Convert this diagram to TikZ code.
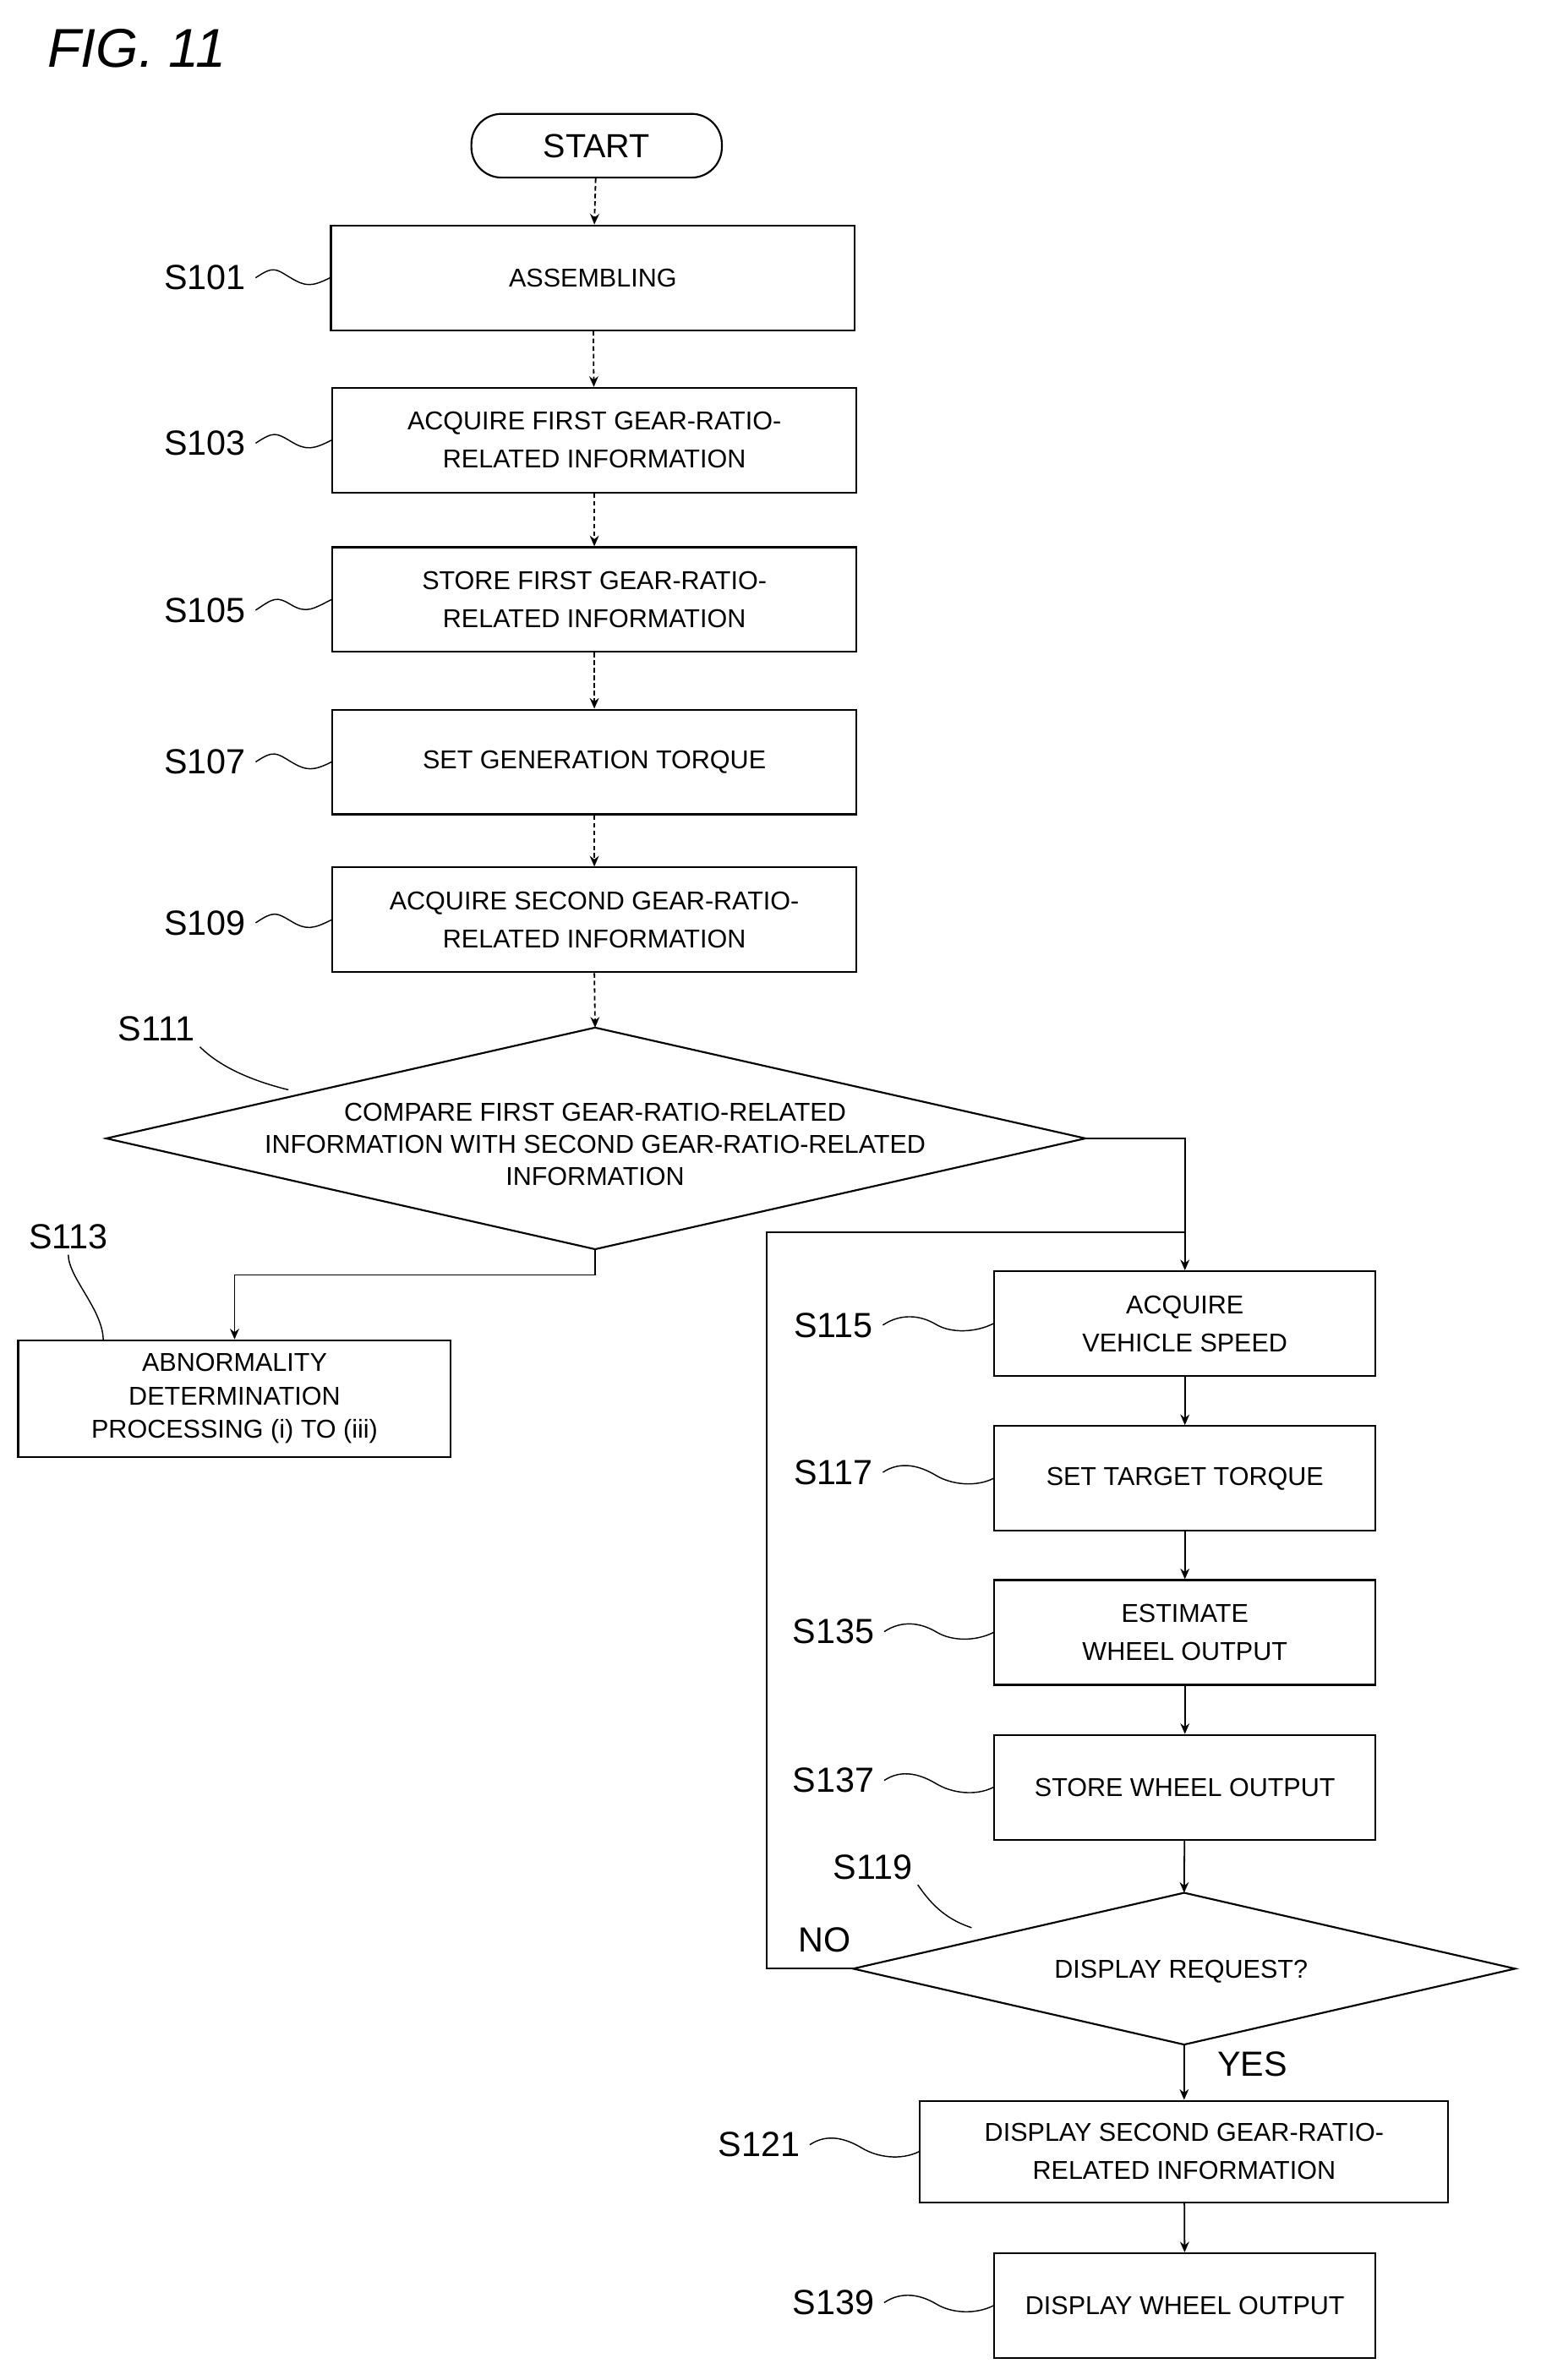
\documentclass[tikz,border=0pt]{standalone}
\usepackage{fontspec}
\setmainfont{Liberation Sans}
\usetikzlibrary{shapes.geometric,arrows.meta,calc}
\begin{document}
\begin{tikzpicture}[x=1pt,y=-1pt,
 box/.style={draw,line width=1.2pt,inner sep=0pt,align=center,font=\fontsize{17}{25}\selectfont},
 lab/.style={font=\fontsize{23}{26}\selectfont},
 ar/.style={-{Stealth[length=7pt,width=6pt]},line width=1pt},
 dar/.style={ar,densely dashed},
 sq/.style={line width=0.8pt}]
\useasboundingbox (0,0) rectangle (1015,1568);
\node[font=\itshape\fontsize{36}{40}\selectfont] (fig) at (90,32) {FIG. 11};
\node[box,rounded corners=20pt,minimum width=165pt,minimum height=42pt,font=\fontsize{22}{24}\selectfont] (start) at (393,96) {START};
\def\mk#1#2#3#4#5#6{\node[box,minimum width=#3pt,minimum height=69pt] (#1) at (#2) {#4};
 \node[lab] (#1l) at (#5) {#6};}
\mk{s101}{390.5,183}{345}{ASSEMBLING}{135,183}{S101}
\mk{s103}{391.5,290}{345}{ACQUIRE FIRST GEAR-RATIO-\\RELATED INFORMATION}{135,292}{S103}
\mk{s105}{391.5,395}{345}{STORE FIRST GEAR-RATIO-\\RELATED INFORMATION}{135,402}{S105}
\mk{s107}{391.5,502}{345}{SET GENERATION TORQUE}{135,502}{S107}
\mk{s109}{391.5,606}{345}{ACQUIRE SECOND GEAR-RATIO-\\RELATED INFORMATION}{135,608}{S109}
\draw[line width=1.2pt] (70,750) -- (392,677) -- (715,750) -- (392,823) -- cycle;
\coordinate (dl) at (70,750); \coordinate (dr) at (715,750); \coordinate (dt) at (392,677); \coordinate (db) at (392,823);
\node[align=center,font=\fontsize{17}{21}\selectfont] (s111t) at (392,754) {COMPARE FIRST GEAR-RATIO-RELATED\\INFORMATION WITH SECOND GEAR-RATIO-RELATED\\INFORMATION};
\node[lab] (s111l) at (103,678) {S111};
\node[box,minimum width=285pt,minimum height=77pt,font=\fontsize{17}{22}\selectfont] (s113) at (154.5,921.5) {ABNORMALITY\\DETERMINATION\\PROCESSING (i) TO (iii)};
\node[lab] (s113l) at (45,815) {S113};
\mk{s115}{780.5,872}{251}{ACQUIRE\\VEHICLE SPEED}{549,873}{S115}
\mk{s117}{780.5,974}{251}{SET TARGET TORQUE}{549,970}{S117}
\mk{s135}{780.5,1075.5}{251}{ESTIMATE\\WHEEL OUTPUT}{549,1075}{S135}
\mk{s137}{780.5,1177.5}{251}{STORE WHEEL OUTPUT}{549,1173}{S137}
\draw[line width=1.2pt] (562,1297) -- (780,1247) -- (998,1297) -- (780,1347) -- cycle;
\coordinate (el) at (562,1297); \coordinate (et) at (780,1247); \coordinate (eb) at (780,1347);
\node[font=\fontsize{17}{20}\selectfont] (s119t) at (778,1299) {DISPLAY REQUEST?};
\node[lab] (s119l) at (575,1230) {S119};
\node[lab] (no) at (543,1278) {NO};
\node[lab] (yes) at (825,1360) {YES};
\node[box,minimum width=348pt,minimum height=67pt] (s121) at (780,1417.5) {DISPLAY SECOND GEAR-RATIO-\\RELATED INFORMATION};
\node[lab] (s121l) at (500,1413) {S121};
\mk{s139}{780.5,1519}{251}{DISPLAY WHEEL OUTPUT}{549,1517}{S139}
\foreach \a/\b in {s101l/s101,s103l/s103,s105l/s105,s107l/s107,s109l/s109,s115l/s115,s117l/s117,s135l/s135,s137l/s137,s121l/s121,s139l/s139}
 \draw[sq] ([xshift=3pt]\a.east) .. controls +(12,-8) and +(-10,-6) .. ($(\a.east)!0.5!(\b.west)$) .. controls +(10,6) and +(-12,6) .. (\b.west);
\draw[sq] (s111l.south east) .. controls +(15,15) and +(-20,-5) .. (190,718);
\draw[sq] (s113l.south) .. controls +(0,15) and +(0,-20) .. (68,883);
\draw[sq] (s119l.south east) .. controls +(10,15) and +(-15,-5) .. (640,1270);
\draw[dar] (start) -- (s101);
\draw[dar] (s101) -- (s103);
\draw[dar] (s103) -- (s105);
\draw[dar] (s105) -- (s107);
\draw[dar] (s107) -- (s109);
\draw[dar] (s109.south) -- (dt);
\draw[ar] (db) -- (392,840) -| (s113.north);
\draw[ar] (dr) -| (s115.north);
\draw[line width=1pt] (el) -- (505,1297) |- (780,812);
\draw[ar] (s115) -- (s117);
\draw[ar] (s117) -- (s135);
\draw[ar] (s135) -- (s137);
\draw[ar] (s137) -- (et);
\draw[ar] (eb) -- (s121);
\draw[ar] (s121) -- (s139);
\end{tikzpicture}
\end{document}
